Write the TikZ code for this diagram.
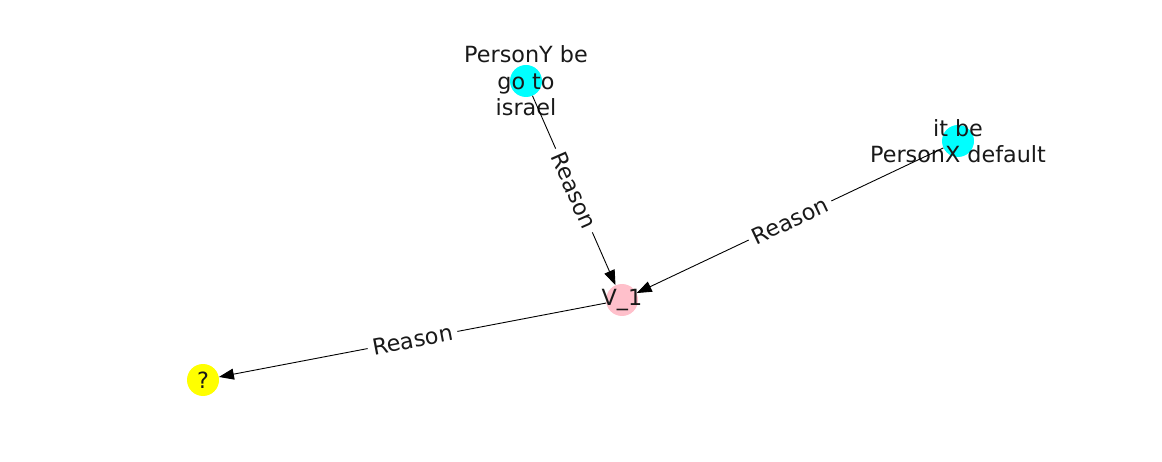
\documentclass[tikz,border=0pt]{standalone}
\usepackage{fontspec}
\setmainfont{DejaVu Sans}
\usetikzlibrary{arrows.meta, positioning}

\definecolor{nodecyan}{HTML}{00FFFF}
\definecolor{nodepink}{HTML}{FFC0CB}
\definecolor{nodeyellow}{HTML}{FFFF00}

\tikzset{
    vert/.style={circle, minimum size=32pt, inner sep=0pt, draw=none},
    vtext/.style={align=center, inner sep=0pt, text=black!90, font=\fontsize{22.3}{26.5}\selectfont},
    rel/.style={-{Triangle[length=15pt, width=11pt]}, line width=0.9pt},
    relname/.style={sloped, fill=white, inner sep=5pt, text=black!90, font=\fontsize{22.3}{24}\selectfont}
}

\begin{document}
\begin{tikzpicture}[x=1pt, y=-1pt]
        \useasboundingbox (0,0) rectangle (1162,462);

        \node[vert, fill=nodecyan, label={[vtext]center:PersonY be\\go to\\israel}](py) at (526,81){};
        \node[vert, fill=nodecyan, label={[vtext]center:it be\\PersonX default}](itbe) at (958,141){};
        \node[vert, fill=nodepink, label={[vtext]center:V\_1}](v1) at (622,300){};
        \node[vert, fill=nodeyellow, label={[vtext]center:?}](q) at (203,380){};

        \path[rel, draw]
        (py) edge[rel] node[relname] {Reason} (v1)
        (itbe) edge[rel] node[relname] {Reason} (v1)
        (v1) edge[rel] node[relname] {Reason} (q);
\end{tikzpicture}
\end{document}
